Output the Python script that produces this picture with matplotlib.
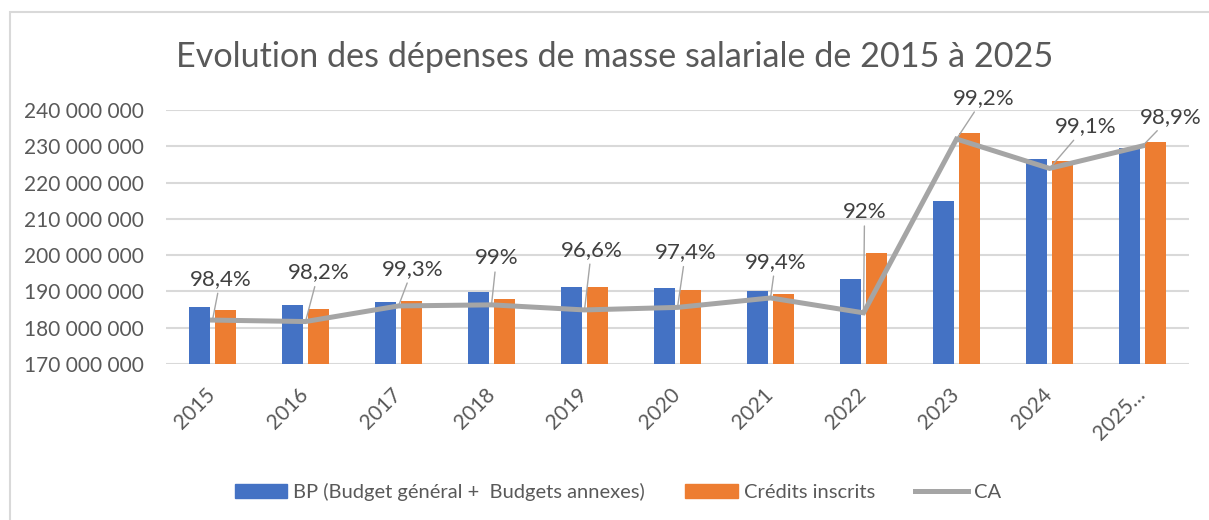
import matplotlib.pyplot as plt
import matplotlib.patches as mpatches
from matplotlib.lines import Line2D
from matplotlib.ticker import FuncFormatter, MultipleLocator
import numpy as np

# Chart data
years = ['2015', '2016', '2017', '2018', '2019', '2020', '2021', '2022', '2023', '2024', '2025…']
bp = [185_700_000, 186_300_000, 187_100_000, 189_800_000, 191_200_000, 190_900_000,
      190_100_000, 193_400_000, 214_900_000, 226_500_000, 229_500_000]
credits = [184_900_000, 185_200_000, 187_400_000, 187_900_000, 191_200_000, 190_400_000,
           189_300_000, 200_600_000, 233_700_000, 225_900_000, 231_200_000]
ca = [182_100_000, 181_700_000, 186_000_000, 186_300_000, 184_900_000, 185_600_000,
      188_200_000, 184_100_000, 232_000_000, 223_900_000, 230_100_000]
rates = [98.4, 98.2, 99.3, 99, 96.6, 97.4, 99.4, 92, 99.2, 99.1, 98.9]

# where the rate labels sit relative to the CA points (pixels)
label_offsets = [(8, 41), (13, 49), (14, 37), (5, 47), (7, 60), (8, 55),
                 (5, 36), (1, 101), (27, 41), (36, 42), (28, 29)]

BLUE = '#4472C4'
ORANGE = '#ED7D31'
GREY = '#A5A5A5'
TEXT = '#595959'
GRID = '#D9D9D9'

plt.rcParams['font.family'] = ['Lato', 'DejaVu Sans']

fig = plt.figure(figsize=(12.09, 5.2), dpi=100)
ax = fig.add_axes([0.1373, 0.3, 0.8462, 0.4885])

# chart frame
fig.patches.append(mpatches.Rectangle((10 / 1209, -0.05), 1.1, 1 - 12 / 520 + 0.05,
                                      transform=fig.transFigure, fill=False,
                                      edgecolor=GRID, lw=1.5))

x = np.arange(len(years))
w = 0.226
ax.bar(x - 0.14, bp, width=w, color=BLUE, zorder=2)
ax.bar(x + 0.14, credits, width=w, color=ORANGE, zorder=2)
ax.plot(x, ca, color=GREY, lw=3.6, zorder=3, solid_joinstyle='miter')

for i, r in enumerate(rates):
    txt = f"{r:g}".replace('.', ',') + '%'
    ax.annotate(txt, xy=(x[i], ca[i]), xytext=label_offsets[i], textcoords='offset pixels',
                ha='center', va='center', fontsize=16, color='#404040', zorder=4,
                arrowprops=dict(arrowstyle='-', color=GREY, lw=1, shrinkA=1, shrinkB=0))

ax.set_xlim(-0.5, len(years) - 0.5)
ax.set_ylim(170_000_000, 240_000_000)
ax.yaxis.set_major_locator(MultipleLocator(10_000_000))
ax.yaxis.set_major_formatter(FuncFormatter(lambda v, p: f"{v:,.0f}".replace(',', ' ')))
ax.grid(axis='y', color=GRID, lw=1.5, zorder=0)
ax.set_axisbelow(True)
for s in ax.spines.values():
    s.set_visible(False)

ax.set_xticks(x)
ax.set_xticklabels(years, rotation=45, ha='right', va='center', rotation_mode='anchor')
ax.tick_params(axis='x', length=0, pad=20, labelsize=15, labelcolor=TEXT)
ax.tick_params(axis='y', length=0, pad=16, labelsize=15, labelcolor=TEXT)

fig.text(0.508, 1 - 57 / 520, 'Evolution des dépenses de masse salariale de 2015 à 2025',
         ha='center', va='center', fontsize=24.6, color=TEXT)

handles = [mpatches.Patch(color=BLUE), mpatches.Patch(color=ORANGE),
           Line2D([], [], color=GREY, lw=3.6)]
fig.legend(handles, ['BP (Budget général +  Budgets annexes)', 'Crédits inscrits', 'CA'],
           loc='center', bbox_to_anchor=(0.511, 1 - 492 / 520), ncol=3, frameon=False,
           fontsize=14.5, labelcolor=TEXT, handlelength=2.6, handleheight=0.65,
           handletextpad=0.3, columnspacing=2.0)

fig.savefig('out.png', dpi=100)
